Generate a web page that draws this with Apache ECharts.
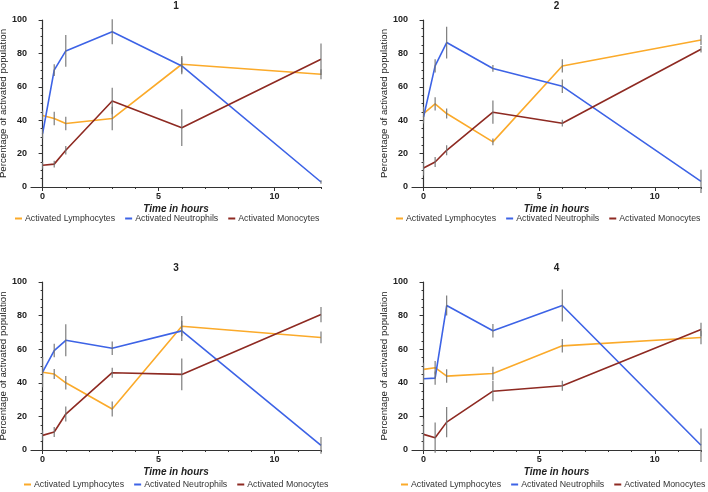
<!DOCTYPE html>
<html>
<head>
<meta charset="utf-8">
<script src="https://cdn.jsdelivr.net/npm/echarts@6/dist/echarts.min.js"></script>
<style>
  html, body { margin: 0; padding: 0; background: #fff; }
  #main { width: 708px; height: 492px; }
</style>
</head>
<body>
<div id="main"></div>
<script>
// time points (hours)
var times = [0, 0.5, 1, 3, 6, 12]
var panelTitles = ['1', '2', '3', '4']
var seriesNames = ['Activated Lymphocytes', 'Activated Neutrophils', 'Activated Monocytes']
var xLabelTicks = [0, 5, 10]
var xMinorTicks = [0, 1, 2, 3, 4, 5, 6, 7, 8, 9, 10, 11, 12]

// means per panel
var lymphMean = [
  [42.8, 41, 38, 41, 73.5, 67.5],
  [44, 49.8, 44, 27, 72.5, 88],
  [46.3, 45.2, 40, 24.4, 73.7, 67],
  [48, 49, 44, 45.5, 62, 67]
]
var neutMean = [
  [32, 70, 81.5, 93, 72.5, 3],
  [42, 72.5, 86.5, 71, 60.3, 3.4],
  [46.3, 59.2, 65.3, 60.6, 70.9, 2.8],
  [42.4, 42.8, 86, 71, 86, 2.8]
]
var monoMean = [
  [13, 13.7, 22, 51.5, 35.5, 76.5],
  [11.4, 15, 22, 44.8, 38.2, 82.5],
  [8.7, 10.7, 21.4, 46, 45, 80.6],
  [9.3, 7.3, 16.6, 35, 38.2, 71.7]
]

// error (+/-) per panel
var lymphErr = [
  [3, 4, 4, 7, 5, 3],
  [4, 4, 3, 2, 4, 3],
  [3, 3, 4, 4.5, 6, 3.5],
  [4, 4, 4, 4, 4, 4]
]
var neutErr = [
  [3, 3.5, 9.5, 7.5, 5, 1],
  [4, 4, 9.5, 2, 4, 7],
  [9, 4, 9.5, 4, 6, 5],
  [3, 4, 6, 4, 9.5, 10]
]
var monoErr = [
  [2, 2, 2.5, 8, 11, 9.5],
  [4.5, 3, 3, 7, 2, 2],
  [3, 3, 4.5, 3, 9.5, 4.5],
  [9.5, 9, 9, 6, 3, 4]
]

var colors = ['#fbaa2a', '#3d63e6', '#8e2a22']
var means = [lymphMean, neutMean, monoMean]
var errs = [lymphErr, neutErr, monoErr]

// layout of the 4 panels
var grids = [
  { left: 31, top: 20, width: 290, height: 167 },
  { left: 412, top: 20, width: 289, height: 167 },
  { left: 31, top: 282, width: 290, height: 168 },
  { left: 412, top: 282, width: 289, height: 168 }
]
var legendPos = [
  { left: 15, top: 214 },
  { left: 396, top: 214 },
  { left: 24, top: 480 },
  { left: 401, top: 480 }
]

var axisColor = '#333'
var font = 'Liberation Sans, Arial, sans-serif'

var chart = echarts.init(document.getElementById('main'))

var title = [], xAxis = [], yAxis = [], legend = [], series = []

grids.forEach(function (g, i) {
  g.outerBoundsMode = 'none'
  g.containLabel = false
  title.push({
    text: panelTitles[i],
    left: g.left + g.width / 2,
    top: i < 2 ? 1 : 263,
    padding: 0,
    textAlign: 'center',
    textStyle: { fontSize: 10, fontWeight: 'bold', color: '#222', fontFamily: font }
  })
  // main x axis
  xAxis.push({
    type: 'value',
    gridIndex: i,
    min: -0.5,
    max: 12,
    name: 'Time in hours',
    nameLocation: 'middle',
    nameGap: 17,
    nameTextStyle: { fontStyle: 'italic', fontWeight: 'bold', fontSize: 10, color: '#222', fontFamily: font, verticalAlign: 'top' },
    axisLine: { lineStyle: { color: axisColor, width: 1.2 } },
    axisTick: { customValues: xLabelTicks, length: 4, lineStyle: { color: axisColor } },
    axisLabel: { customValues: xLabelTicks, fontSize: 9, fontWeight: 'bold', color: '#222', margin: 5, fontFamily: font },
    splitLine: { show: false }
  })
  yAxis.push({
    type: 'value',
    gridIndex: i,
    min: 0,
    max: 100,
    interval: 20,
    name: 'Percentage of activated population',
    nameLocation: 'middle',
    nameGap: 20,
    nameTextStyle: { fontSize: 9.7, color: '#222', fontFamily: font },
    axisLine: { show: true, lineStyle: { color: axisColor, width: 1.2 } },
    axisTick: { show: true, length: 4, lineStyle: { color: axisColor } },
    minorTick: { show: true, splitNumber: 4, length: 2, lineStyle: { color: axisColor } },
    axisLabel: { fontSize: 9, fontWeight: 'bold', color: '#222', margin: 4, fontFamily: font },
    splitLine: { show: false }
  })
  legend.push({
    data: seriesNames,
    left: legendPos[i].left,
    top: legendPos[i].top,
    width: 360,
    icon: 'rect',
    itemWidth: 7,
    itemHeight: 2,
    itemGap: 10,
    padding: 0,
    selectedMode: false,
    textStyle: { fontSize: 8.8, color: '#333', fontFamily: font, padding: [0, 0, 0, -2] }
  })
})

// minor x ticks: extra axes stacked on the same bottom line
grids.forEach(function (g, i) {
  xAxis.push({
    type: 'value',
    gridIndex: i,
    position: 'bottom',
    min: -0.5,
    max: 12,
    axisLine: { show: false },
    axisTick: { customValues: xMinorTicks, length: 2, lineStyle: { color: axisColor } },
    axisLabel: { show: false },
    splitLine: { show: false }
  })
})

function errorBar(params, api) {
  var x = api.value(0), y = api.value(1), e = api.value(2)
  var p1 = api.coord([x, y - e])
  var p2 = api.coord([x, y + e])
  return {
    type: 'line',
    shape: { x1: p1[0], y1: p1[1], x2: p2[0], y2: p2[1] },
    style: { stroke: '#707070', lineWidth: 1.1 }
  }
}

for (var i = 0; i < 4; i++) {
  for (var k = 0; k < 3; k++) {
    series.push({
      name: seriesNames[k],
      type: 'line',
      xAxisIndex: i,
      yAxisIndex: i,
      data: times.map(function (t, j) { return [t, means[k][i][j]] }),
      showSymbol: false,
      symbol: 'none',
      lineStyle: { color: colors[k], width: 1.6 },
      itemStyle: { color: colors[k] },
      z: 2
    })
    series.push({
      type: 'custom',
      xAxisIndex: i,
      yAxisIndex: i,
      renderItem: errorBar,
      data: times.map(function (t, j) { return [t, means[k][i][j], errs[k][i][j]] }),
      z: 3,
      silent: true
    })
  }
}

var option = {
  animation: false,
  backgroundColor: '#fff',
  title: title,
  grid: grids,
  xAxis: xAxis,
  yAxis: yAxis,
  legend: legend,
  series: series
}

chart.setOption(option)
</script>
</body>
</html>
